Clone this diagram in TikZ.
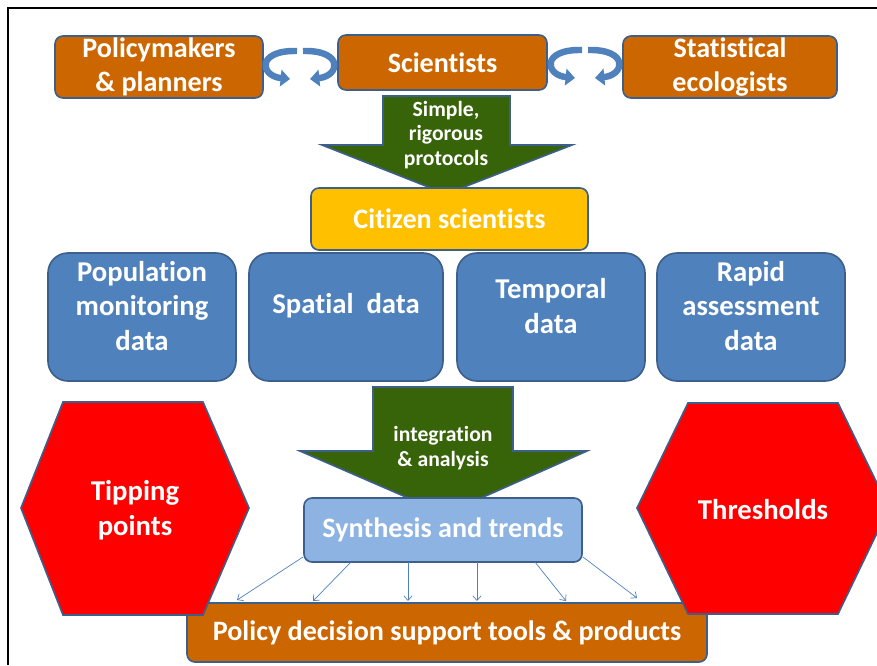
\documentclass[tikz,border=0pt]{standalone}
\usepackage{fontspec}
\setmainfont{Carlito}[Ligatures=NoCommon]
\usepackage{tikz}
\usetikzlibrary{arrows.meta,calc}

\definecolor{boxorange}{HTML}{CC6600}
\definecolor{edgeblue}{HTML}{3D5F8C}
\definecolor{citizen}{HTML}{FFC000}
\definecolor{databl}{HTML}{4F81BD}
\definecolor{synthbl}{HTML}{8DB3E2}
\definecolor{arrgreen}{HTML}{376408}
\definecolor{hexred}{HTML}{FF0000}

\begin{document}
\begin{tikzpicture}[x=0.03cm,y=-0.03cm,
  box/.style={draw=edgeblue,line width=1.4pt,rounded corners=0.24cm,text=white,
    font=\bfseries\fontsize{24}{29}\selectfont,align=center,inner sep=0pt,outer sep=0pt},
  databox/.style={box,fill=databl,rounded corners=0.6cm,minimum width=5.64cm,minimum height=3.84cm},
  boxtext/.style={text=white,font=\bfseries\fontsize{24.5}{29.5}\selectfont,align=center},
  arrtext/.style={text=white,font=\bfseries\fontsize{18.5}{21}\selectfont,align=center},
  blockarr/.style={fill=arrgreen,draw=edgeblue,line width=1.4pt,line join=miter},
  hexa/.style={fill=hexred,draw=edgeblue,line width=1.4pt},
  swirl/.style={draw=databl,line width=5.5pt,-{Triangle[length=8pt,width=14pt]}},
  thinarr/.style={draw=databl,line width=0.6pt,-{Straight Barb[length=4pt,width=7pt]}}]
  \useasboundingbox (0,0) rectangle (877,665);
  \clip (0,0) rectangle (877,665);
  % frame
  \draw[line width=2.4pt] (877,8) -- (8,8) -- (8,665);
  % top row
  \node[box,fill=boxorange,minimum width=6.24cm,minimum height=1.86cm] (plan) at (159,67) {Policymakers\\\& planners};
  \node[box,fill=boxorange,minimum width=6.27cm,minimum height=1.65cm] (sci) at (442.5,62.5) {Scientists};
  \node[box,fill=boxorange,minimum width=6.42cm,minimum height=1.86cm] (stat) at (730,67) {Statistical\\ecologists};
  % exchange swirls
  \foreach \cx/\cy in {300/64,585/63} {
    \draw[swirl] (\cx-3,\cy-13) .. controls (\cx-44,\cy-14) and (\cx-40,\cy+12) .. (\cx-10,\cy+15);
    \draw[swirl] (\cx+3,\cy-13) .. controls (\cx+44,\cy-14) and (\cx+40,\cy+12) .. (\cx+10,\cy+15);
  }
  % protocols arrow
  \draw[blockarr] (383,96) -- (510,96) -- (510,145) -- (572,145) -- (446,194)
    -- (322,145) -- (383,145) -- cycle;
  \node[arrtext] (proto) at (446,135) {Simple,\\rigorous\\protocols};
  \node[box,fill=citizen,minimum width=8.31cm,minimum height=1.86cm] (cit) at (449.5,219) {Citizen scientists};
  % data boxes
  \node[databox] (pop) at (142,317) {};
  \node[databox,minimum width=5.82cm] (spat) at (346,317) {};
  \node[databox] (temp) at (551,317) {};
  \node[databox] (rapid) at (751,317) {};
  \node[boxtext] (poptxt) at (142,306) {Population\\monitoring\\data};
  \node[boxtext] (spattxt) at (346,306) {Spatial\ \ data};
  \node[boxtext] (temptxt) at (551,306) {Temporal\\data};
  \node[boxtext] (rapidtxt) at (751,306) {Rapid\\assessment\\data};
  % integration arrow
  \draw[blockarr] (373,387) -- (513,387) -- (513,451) -- (587,451) -- (445,514)
    -- (300,451) -- (373,451) -- cycle;
  \node[arrtext] (integ) at (443,448) {integration\\\& analysis};
  \node[box,fill=synthbl,minimum width=8.34cm,minimum height=1.92cm] (synth) at (443,530) {Synthesis and trends};
  % fan of arrows to products
  \node[box,fill=boxorange,minimum width=15.6cm,minimum height=1.77cm] (prod) at (447,632.5) {Policy decision support tools \& products};
  \draw[thinarr] ($(synth.south west)+(-1,-5)$) -- ($(prod.north)+(-210,-3)$);
  \draw[thinarr] ($(synth.south)+(-92,0)$) -- ($(prod.north)+(-134,-2)$);
  \draw[thinarr] ($(synth.south)+(-35,0)$) -- ($(prod.north)+(-39,-2)$);
  \draw[thinarr] ($(synth.south)+(34,0)$) -- ($(prod.north)+(30,-2)$);
  \draw[thinarr] ($(synth.south)+(92,0)$) -- ($(prod.north)+(119,-2)$);
  \draw[thinarr] ($(synth.south east)+(1,-5)$) -- ($(prod.north)+(190,-5)$);
  % hexagons
  \draw[hexa] (63,402) -- (203,402) -- (249,508) -- (203,615) -- (63,615) -- (21,508) -- cycle;
  \node[boxtext] (tip) at (135,510) {Tipping\\points};
  \draw[hexa] (688,403) -- (838,403) -- (889,508) -- (838,614) -- (688,614) -- (637,508) -- cycle;
  \node[boxtext] (thresh) at (763,510) {Thresholds};
\end{tikzpicture}
\end{document}
